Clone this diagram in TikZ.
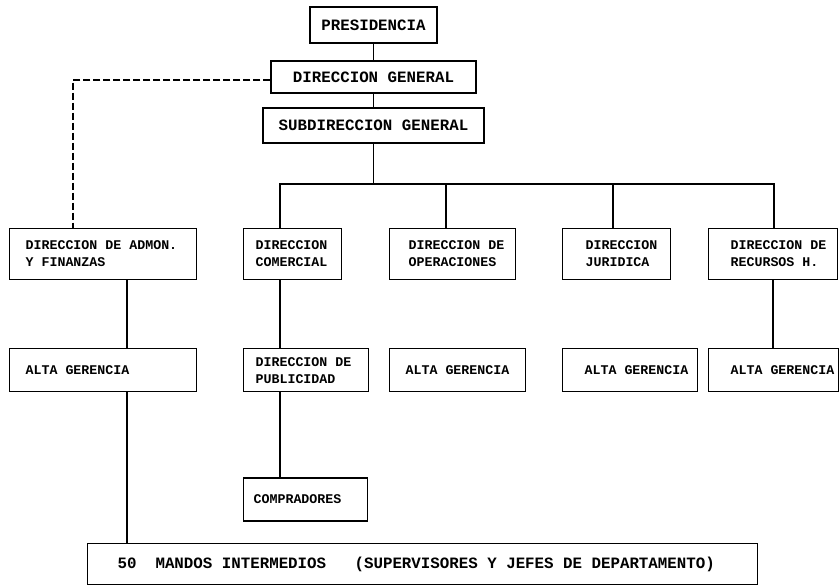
\documentclass[tikz,border=0pt]{standalone}
\usepackage{fontspec}
\setmonofont{Liberation Mono}
\usetikzlibrary{positioning}

\begin{document}
\begin{tikzpicture}[x=1pt, y=-1pt]
    \tikzstyle{head} = [rectangle, draw=black, line width=1.2pt, inner sep=0pt, font=\ttfamily\bfseries\fontsize{15.8}{19}\selectfont]
    \tikzstyle{unit} = [rectangle, draw=black, line width=1.2pt, inner ysep=0pt, align=left, anchor=north west, font=\ttfamily\bfseries\fontsize{13.3}{17}\selectfont, execute at begin node={\spaceskip=0.6em\relax}]
    \tikzstyle{link} = [line width=1.2pt, draw=black]
    \tikzstyle{staff} = [line width=1.2pt, draw=black, dash pattern=on 7pt off 3pt]

    \useasboundingbox (0,0) rectangle (839,585);

    % top of the chart
    \node [head, minimum width=127pt, minimum height=36pt] (pres) at (373.5,25) {PRESIDENCIA};
    \node [head, minimum width=205pt, minimum height=32pt] (dg) at (373.5,77) {DIRECCION GENERAL};
    \node [head, minimum width=221pt, minimum height=35pt] (subdir) at (373.5,125.5) {SUBDIRECCION GENERAL};

    % direcciones
    \node [unit, text width=155pt, inner xsep=16pt, minimum height=51pt] (admon) at (9,228) {DIRECCION~DE~ADMON.\\Y~FINANZAS};
    \node [unit, text width=74pt, inner xsep=12pt, minimum height=51pt] (comer) at (243,228) {DIRECCION\\COMERCIAL};
    \node [unit, text width=88pt, inner xsep=19pt, minimum height=51pt] (op) at (389,228) {DIRECCION~DE\\OPERACIONES};
    \node [unit, text width=62pt, inner xsep=23pt, minimum height=51pt] (jur) at (562,228) {DIRECCION\\JURIDICA};
    \node [unit, text width=85pt, inner xsep=22pt, minimum height=51pt] (rec) at (708,228) {DIRECCION~DE\\RECURSOS~H.};

    % second level
    \node [unit, text width=155pt, inner xsep=16pt, minimum height=43pt, below=68pt of admon.south west, anchor=north west] (alta1) {ALTA~GERENCIA};
    \node [unit, text width=101pt, inner xsep=12pt, minimum height=43pt, below=68pt of comer.south west, anchor=north west] (publ) {DIRECCION~DE\\PUBLICIDAD};
    \node [unit, text width=104pt, inner xsep=16pt, minimum height=43pt, below=68pt of op.south west, anchor=north west] (alta2) {ALTA~GERENCIA};
    \node [unit, text width=91pt, inner xsep=22pt, minimum height=43pt, below=68pt of jur.south west, anchor=north west] (alta3) {ALTA~GERENCIA};
    \node [unit, text width=86pt, inner xsep=22pt, minimum height=43pt, below=68pt of rec.south west, anchor=north west] (alta4) {ALTA~GERENCIA};

    \node [unit, text width=104pt, inner xsep=10pt, minimum height=43pt, below=85pt of publ.south west, anchor=north west] (compr) {COMPRADORES};

    \node [unit, text width=610pt, inner xsep=30pt, minimum height=41pt, font=\ttfamily\bfseries\fontsize{15.8}{19}\selectfont] (mandos) at (87,543) {50~~MANDOS~INTERMEDIOS~~~(SUPERVISORES~Y~JEFES~DE~DEPARTAMENTO)};

    \coordinate (bus) at (373.5,184);

    \draw [link] (pres.south) -- (dg.north);
    \draw [link] (dg.south) -- (subdir.north);
    \draw [link] (subdir.south) -- (bus);
    \draw [link] (bus) -| ([xshift=37pt]comer.north west);
    \draw [link] (bus) -| ([xshift=57pt]op.north west);
    \draw [link] (bus) -| ([xshift=51pt]jur.north west);
    \draw [link] (bus) -| ([xshift=66pt]rec.north west);
    \draw [staff] ([yshift=-3pt]dg.west) -| ([xshift=64pt]admon.north west);

    \draw [link] ([xshift=118pt]admon.south west) -- ([xshift=118pt]alta1.north west);
    \draw [link] ([xshift=118pt]alta1.south west) -- ([xshift=40pt]mandos.north west);
    \draw [link] ([xshift=37pt]comer.south west) -- ([xshift=37pt]publ.north west);
    \draw [link] ([xshift=37pt]publ.south west) -- ([xshift=37pt]compr.north west);
    \draw [link] ([xshift=65pt]rec.south west) -- ([xshift=65pt]alta4.north west);
\end{tikzpicture}
\end{document}
